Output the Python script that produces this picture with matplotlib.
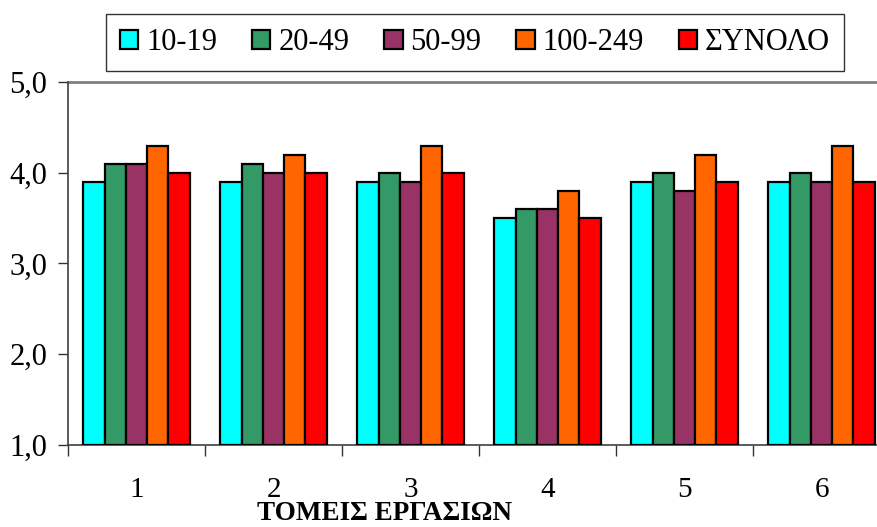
import numpy as np
import matplotlib.pyplot as plt
from matplotlib.ticker import FuncFormatter

plt.rcParams['font.family'] = ['Liberation Serif', 'DejaVu Serif']

# τομείς εργασιών
sectors = ['1', '2', '3', '4', '5', '6']
series_names = ['10-19', '20-49', '50-99', '100-249', 'ΣΥΝΟΛΟ']
v_10_19 = [3.9, 3.9, 3.9, 3.5, 3.9, 3.9]
v_20_49 = [4.1, 4.1, 4.0, 3.6, 4.0, 4.0]
v_50_99 = [4.1, 4.0, 3.9, 3.6, 3.8, 3.9]
v_100_249 = [4.3, 4.2, 4.3, 3.8, 4.2, 4.3]
v_total = [4.0, 4.0, 4.0, 3.5, 3.9, 3.9]
colors = ['#00FFFF', '#339966', '#993366', '#FF6600', '#FF0000']

W, H = 877, 527
fig = plt.figure(figsize=(W / 100, H / 100), dpi=100)
# plot area runs past the right edge, like the original
ax = fig.add_axes([68 / W, 1 - 445 / H, (890 - 68) / W, (445 - 82) / H])

x = np.arange(len(sectors))
bw = 0.155
all_vals = [v_10_19, v_20_49, v_50_99, v_100_249, v_total]
for i, (vals, name, c) in enumerate(zip(all_vals, series_names, colors)):
    ax.bar(x + (i - 2) * bw, np.array(vals) - 1.0, bw, bottom=1.0, color=c,
           edgecolor='black', linewidth=1.6, label=name, zorder=3)

ax.set_xlim(-0.5, len(sectors) - 0.5)
ax.set_ylim(1, 5)
ax.axhline(5, color='#808080', lw=2, zorder=2, clip_on=False)

ax.set_yticks([1, 2, 3, 4, 5])
ax.yaxis.set_major_formatter(FuncFormatter(lambda v, p: f'{v:.1f}'.replace('.', ',')))
ax.set_xticks(x)
ax.set_xticklabels(sectors)
ax.set_xticks(np.arange(len(sectors) + 1) - 0.5, minor=True)
ax.tick_params(axis='x', which='major', length=0, pad=23, labelsize=21)
ax.tick_params(axis='x', which='minor', length=8, width=1, color='#333333', direction='out')
ax.tick_params(axis='y', length=7, width=1, color='#333333', labelsize=22, pad=8)

for s in ['top', 'right']:
    ax.spines[s].set_visible(False)
for s in ['left', 'bottom']:
    ax.spines[s].set_color('#404040')
    ax.spines[s].set_linewidth(1.2)

fig.text(385 / W, 1 - 514 / H, 'ΤΟΜΕΙΣ ΕΡΓΑΣΙΩΝ', ha='center', va='center',
         fontsize=19.5, fontweight='bold')

leg = fig.legend(loc='center', bbox_to_anchor=(475 / W, 1 - 42.5 / H), ncol=5,
                 fontsize=22, frameon=True, fancybox=False, edgecolor='black',
                 handlelength=0.6, handleheight=0.6, handletextpad=0.25,
                 columnspacing=1.15, borderpad=0.45)
leg.get_frame().set_linewidth(1.0)

fig.savefig('out.png', dpi=100)
